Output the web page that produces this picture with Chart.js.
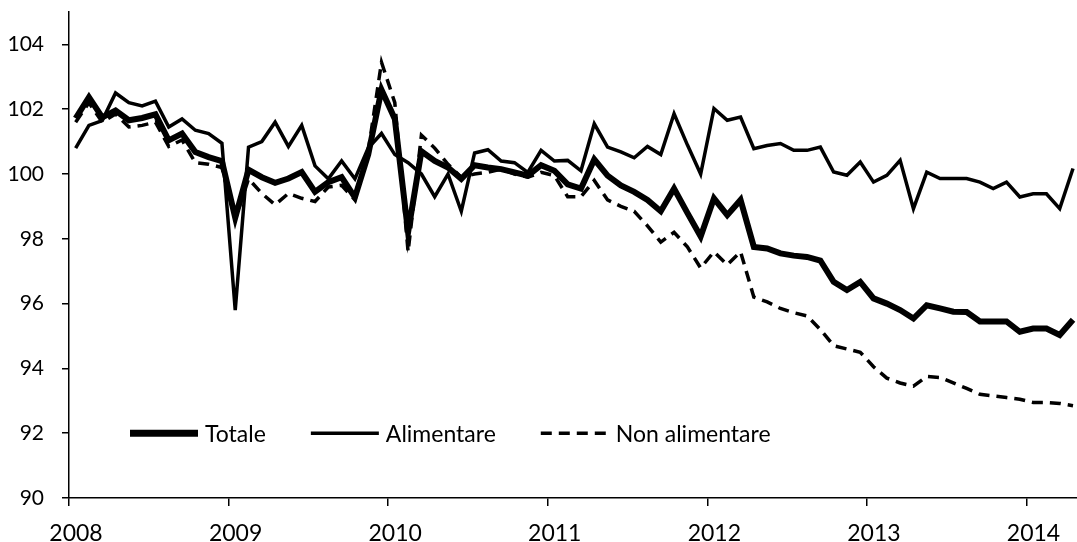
<!DOCTYPE html>
<html>
<head>
<meta charset="utf-8">
<script src="https://cdn.jsdelivr.net/npm/chart.js@4/dist/chart.umd.min.js"></script>
<style>
  html, body { margin: 0; padding: 0; background: #fff; }
  canvas { display: block; }
</style>
</head>
<body>
<canvas id="chart" width="1077" height="542"></canvas>
<script>
// monthly index, Jan 2008 - Apr 2014
const years = ['2008', '2009', '2010', '2011', '2012', '2013', '2014'];

const totale = [
  101.72, 102.37, 101.75, 101.96, 101.66, 101.73, 101.84, 101.04, 101.25, 100.68, 100.52, 100.4,
  98.65, 100.13, 99.9, 99.73, 99.86, 100.06, 99.45, 99.75, 99.9, 99.28, 100.6, 102.6,
  101.7, 98.2, 100.7, 100.4, 100.2, 99.85, 100.27, 100.2, 100.15, 100.05, 99.95, 100.27,
  100.1, 99.68, 99.55, 100.45, 99.95, 99.65, 99.45, 99.2, 98.85, 99.55, 98.8, 98.07,
  99.25, 98.73, 99.2, 97.75, 97.7, 97.55, 97.48, 97.44, 97.33, 96.67, 96.42, 96.67,
  96.16, 96.0, 95.8, 95.54, 95.95, 95.85, 95.75, 95.74, 95.45, 95.45, 95.45, 95.13,
  95.23, 95.23, 95.03, 95.5
];

const alimentare = [
  100.8, 101.5, 101.65, 102.5, 102.2, 102.1, 102.25, 101.45, 101.7, 101.35, 101.25, 100.95,
  95.8, 100.83, 101.0, 101.6, 100.85, 101.5, 100.25, 99.85, 100.4, 99.85, 100.8, 101.25,
  100.6, 100.35, 100.0, 99.3, 100.0, 98.85, 100.65, 100.75, 100.4, 100.35, 100.05, 100.73,
  100.4, 100.42, 100.1, 101.55, 100.83, 100.68, 100.5, 100.85, 100.6, 101.86, 100.9, 100.0,
  102.02, 101.66, 101.76, 100.78, 100.88, 100.94, 100.73, 100.73, 100.83, 100.06, 99.96, 100.37,
  99.75, 99.96, 100.42, 98.93, 100.06, 99.86, 99.86, 99.86, 99.75, 99.55, 99.75, 99.29,
  99.39, 99.39, 98.93, 100.17
];

const nonAlimentare = [
  101.6, 102.2, 101.6, 101.85, 101.45, 101.5, 101.6, 100.85, 101.05, 100.35, 100.3, 100.2,
  98.6, 99.85, 99.4, 99.05, 99.4, 99.25, 99.15, 99.6, 99.65, 99.2, 100.7, 103.45,
  102.2, 97.6, 101.2, 100.8, 100.3, 99.9, 100.0, 100.05, 100.15, 100.0, 99.9, 100.05,
  99.95, 99.3, 99.3, 99.8, 99.2, 99.0, 98.85, 98.4, 97.9, 98.2, 97.75, 97.1,
  97.6, 97.2, 97.6, 96.2, 96.05, 95.85, 95.72, 95.62, 95.2, 94.7, 94.6, 94.5,
  94.05, 93.7, 93.55, 93.45, 93.75, 93.72, 93.55, 93.38, 93.2, 93.15, 93.1, 93.05,
  92.95, 92.95, 92.92, 92.85
];

const FONT = 'Lato, "Open Sans", sans-serif';

// points sit in the middle of their month
const toPoints = arr => arr.map((v, i) => ({ x: i + 0.5, y: v }));

// legend drawn inside the plot, on the 92 line
const insideLegend = {
  id: 'insideLegend',
  afterDraw(chart, args, opts) {
    const ctx = chart.ctx;
    const y = chart.scales.y.getPixelForValue(opts.atValue);
    let x = opts.left;
    ctx.save();
    ctx.font = opts.fontSize + 'px ' + FONT;
    ctx.textBaseline = 'middle';
    chart.data.datasets.forEach(ds => {
      ctx.beginPath();
      ctx.setLineDash(ds.borderDash || []);
      ctx.lineWidth = ds.legendWidth || ds.borderWidth;
      ctx.strokeStyle = ds.borderColor;
      ctx.moveTo(x, y);
      ctx.lineTo(x + opts.lineLength, y);
      ctx.stroke();
      ctx.setLineDash([]);
      x += opts.lineLength + opts.textGap;
      ctx.fillStyle = '#000';
      ctx.fillText(ds.label, x, y + 1);
      x += ctx.measureText(ds.label).width + opts.itemGap;
    });
    ctx.restore();
  }
};

new Chart(document.getElementById('chart'), {
  type: 'line',
  data: {
    datasets: [
      {
        label: 'Totale',
        data: toPoints(totale),
        borderColor: '#000',
        borderWidth: 6,
        legendWidth: 7,
        pointRadius: 0,
        tension: 0
      },
      {
        label: 'Alimentare',
        data: toPoints(alimentare),
        borderColor: '#000',
        borderWidth: 3.5,
        pointRadius: 0,
        tension: 0
      },
      {
        label: 'Non alimentare',
        data: toPoints(nonAlimentare),
        borderColor: '#000',
        borderWidth: 3.5,
        borderDash: [11, 7],
        pointRadius: 0,
        tension: 0
      }
    ]
  },
  options: {
    responsive: false,
    devicePixelRatio: 1,
    animation: false,
    layout: { padding: { top: 12, right: 0, left: 0, bottom: 0 } },
    plugins: {
      legend: { display: false },
      tooltip: { enabled: false },
      insideLegend: { atValue: 92, left: 130, lineLength: 68, textGap: 7, itemGap: 45, fontSize: 23 }
    },
    scales: {
      x: {
        type: 'linear',
        min: 0,
        max: 75.8,
        afterBuildTicks: s => { s.ticks = years.map((y, k) => ({ value: k * 12 })); },
        afterFit: s => { s.height = 44; s.paddingLeft = 0; s.paddingRight = 0; },
        ticks: {
          callback: v => years[Math.round(v / 12)],
          labelOffset: 7,
          padding: 14,
          autoSkip: false,
          maxRotation: 0,
          color: '#000',
          font: { family: FONT, size: 23 }
        },
        grid: { drawOnChartArea: false, tickLength: 8, color: '#000', lineWidth: 1.5 },
        border: { color: '#000', width: 1.5 }
      },
      y: {
        min: 90,
        max: 105,
        afterBuildTicks: s => { s.ticks = s.ticks.filter(t => t.value % 2 === 0); },
        afterFit: s => { s.width = 69; s.paddingTop = 0; s.paddingBottom = 0; },
        ticks: {
          stepSize: 2,
          padding: 18,
          color: '#000',
          font: { family: FONT, size: 21 }
        },
        grid: { drawOnChartArea: false, tickLength: 7, color: '#000', lineWidth: 1.5 },
        border: { color: '#000', width: 1.5 }
      }
    }
  },
  plugins: [insideLegend]
});
</script>
</body>
</html>
